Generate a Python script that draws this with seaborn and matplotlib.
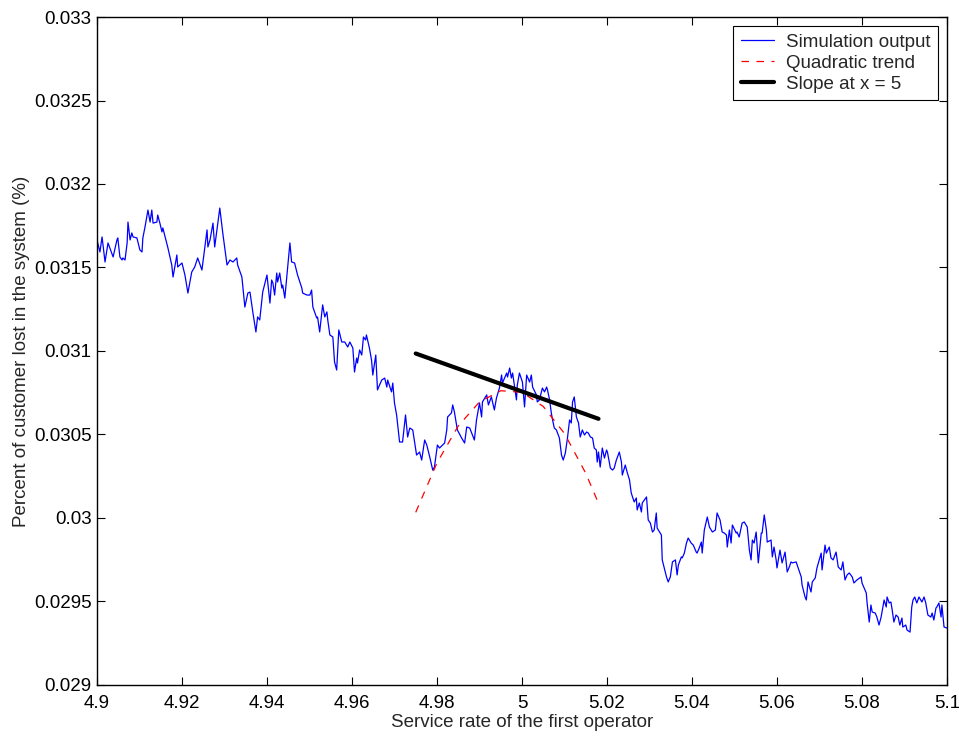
import numpy as np
import pandas as pd
import matplotlib
matplotlib.use("Agg")
import matplotlib.pyplot as plt
import seaborn as sns

# simulation output
sim_x = [4.9000, 4.9007, 4.9012, 4.9019, 4.9026, 4.9038, 4.9047, 4.9049, 4.9054, 4.9059,
         4.9061, 4.9066, 4.9071, 4.9073, 4.9078, 4.9082, 4.9085, 4.9094, 4.9101, 4.9106,
         4.9108, 4.9113, 4.9120, 4.9125, 4.9129, 4.9132, 4.9141, 4.9143, 4.9148, 4.9153,
         4.9155, 4.9167, 4.9176, 4.9179, 4.9188, 4.9190, 4.9200, 4.9207, 4.9214, 4.9223,
         4.9230, 4.9237, 4.9247, 4.9259, 4.9261, 4.9266, 4.9273, 4.9277, 4.9289, 4.9296,
         4.9306, 4.9313, 4.9320, 4.9329, 4.9331, 4.9341, 4.9348, 4.9355, 4.9360, 4.9367,
         4.9374, 4.9378, 4.9383, 4.9390, 4.9400, 4.9407, 4.9411, 4.9414, 4.9418, 4.9423,
         4.9425, 4.9430, 4.9435, 4.9437, 4.9442, 4.9447, 4.9454, 4.9458, 4.9465, 4.9472,
         4.9482, 4.9484, 4.9494, 4.9501, 4.9505, 4.9508, 4.9517, 4.9519, 4.9524, 4.9531,
         4.9536, 4.9541, 4.9543, 4.9548, 4.9555, 4.9559, 4.9564, 4.9569, 4.9576, 4.9583,
         4.9590, 4.9595, 4.9602, 4.9606, 4.9611, 4.9613, 4.9618, 4.9623, 4.9627, 4.9632,
         4.9634, 4.9641, 4.9646, 4.9649, 4.9656, 4.9660, 4.9670, 4.9677, 4.9682, 4.9684,
         4.9693, 4.9696, 4.9700, 4.9705, 4.9712, 4.9719, 4.9726, 4.9731, 4.9736, 4.9743,
         4.9752, 4.9759, 4.9764, 4.9771, 4.9776, 4.9783, 4.9790, 4.9794, 4.9801, 4.9806,
         4.9813, 4.9818, 4.9823, 4.9825, 4.9834, 4.9837, 4.9841, 4.9848, 4.9858, 4.9865,
         4.9870, 4.9877, 4.9888, 4.9893, 4.9900, 4.9905, 4.9907, 4.9917, 4.9921, 4.9928,
         4.9935, 4.9940, 4.9947, 4.9952, 4.9954, 4.9964, 4.9966, 4.9971, 4.9975, 4.9978,
         4.9987, 4.9989, 4.9994, 5.0001, 5.0006, 5.0011, 5.0018, 5.0022, 5.0025, 5.0034,
         5.0036, 5.0041, 5.0048, 5.0053, 5.0058, 5.0060, 5.0065, 5.0069, 5.0072, 5.0076,
         5.0081, 5.0088, 5.0093, 5.0097, 5.0102, 5.0107, 5.0112, 5.0116, 5.0119, 5.0123,
         5.0128, 5.0133, 5.0137, 5.0142, 5.0147, 5.0152, 5.0156, 5.0161, 5.0166, 5.0170,
         5.0175, 5.0177, 5.0180, 5.0184, 5.0189, 5.0194, 5.0199, 5.0201, 5.0208, 5.0213,
         5.0217, 5.0222, 5.0229, 5.0234, 5.0236, 5.0243, 5.0248, 5.0253, 5.0257, 5.0264,
         5.0269, 5.0271, 5.0276, 5.0281, 5.0283, 5.0288, 5.0293, 5.0297, 5.0302, 5.0307,
         5.0311, 5.0316, 5.0318, 5.0328, 5.0330, 5.0340, 5.0344, 5.0349, 5.0354, 5.0361,
         5.0365, 5.0368, 5.0375, 5.0377, 5.0382, 5.0387, 5.0391, 5.0398, 5.0403, 5.0410,
         5.0412, 5.0417, 5.0422, 5.0424, 5.0429, 5.0436, 5.0441, 5.0448, 5.0455, 5.0459,
         5.0466, 5.0471, 5.0476, 5.0481, 5.0483, 5.0488, 5.0492, 5.0495, 5.0504, 5.0506,
         5.0511, 5.0518, 5.0523, 5.0530, 5.0535, 5.0539, 5.0542, 5.0546, 5.0551, 5.0556,
         5.0563, 5.0565, 5.0570, 5.0575, 5.0577, 5.0586, 5.0589, 5.0593, 5.0598, 5.0600,
         5.0607, 5.0612, 5.0619, 5.0624, 5.0629, 5.0633, 5.0636, 5.0645, 5.0657, 5.0659,
         5.0666, 5.0669, 5.0673, 5.0680, 5.0683, 5.0690, 5.0694, 5.0704, 5.0706, 5.0713,
         5.0716, 5.0723, 5.0727, 5.0732, 5.0739, 5.0744, 5.0751, 5.0755, 5.0760, 5.0765,
         5.0770, 5.0777, 5.0781, 5.0788, 5.0798, 5.0800, 5.0810, 5.0812, 5.0817, 5.0821,
         5.0824, 5.0831, 5.0835, 5.0840, 5.0845, 5.0852, 5.0857, 5.0859, 5.0864, 5.0868,
         5.0871, 5.0875, 5.0880, 5.0885, 5.0889, 5.0894, 5.0896, 5.0903, 5.0906, 5.0913,
         5.0917, 5.0920, 5.0924, 5.0929, 5.0934, 5.0941, 5.0946, 5.0950, 5.0955, 5.0962,
         5.0965, 5.0969, 5.0974, 5.0976, 5.0981, 5.0986, 5.0988, 5.0993, 5.1000]
sim_y = [0.031665, 0.031593, 0.031683, 0.031533, 0.031647, 0.031563, 0.031665, 0.031677, 0.031563, 0.031545,
         0.031557, 0.031545, 0.031647, 0.031772, 0.031665, 0.031707, 0.031683, 0.031677, 0.031605, 0.031593,
         0.031677, 0.031742, 0.031844, 0.031772, 0.031844, 0.031766, 0.031772, 0.031814, 0.031766, 0.031713,
         0.031737, 0.031617, 0.031515, 0.031443, 0.031575, 0.031503, 0.031527, 0.031455, 0.031347, 0.031473,
         0.031503, 0.031557, 0.031485, 0.031725, 0.031623, 0.031665, 0.031766, 0.031623, 0.031856, 0.031707,
         0.031515, 0.031545, 0.031533, 0.031557, 0.031515, 0.031443, 0.031263, 0.031347, 0.031353, 0.031228,
         0.031114, 0.031204, 0.031186, 0.031353, 0.031455, 0.031287, 0.031425, 0.031407, 0.031335, 0.031467,
         0.031413, 0.031467, 0.031377, 0.031395, 0.031317, 0.031455, 0.031647, 0.031533, 0.031527, 0.031455,
         0.031377, 0.031347, 0.031335, 0.031335, 0.031365, 0.031263, 0.031198, 0.031204, 0.031114, 0.031276,
         0.031204, 0.031234, 0.031186, 0.031096, 0.031084, 0.030934, 0.030886, 0.031126, 0.031054, 0.031054,
         0.031024, 0.031054, 0.031018, 0.030874, 0.030958, 0.030928, 0.031006, 0.030976, 0.031084, 0.031066,
         0.031096, 0.031018, 0.030946, 0.030856, 0.030976, 0.030767, 0.030826, 0.030838, 0.030784, 0.030826,
         0.030755, 0.030808, 0.030689, 0.030617, 0.030455, 0.030455, 0.030617, 0.030485, 0.030539, 0.030527,
         0.030377, 0.030395, 0.030347, 0.030467, 0.030437, 0.030365, 0.030287, 0.030305, 0.030437, 0.030419,
         0.030437, 0.030449, 0.030527, 0.030605, 0.030629, 0.030677, 0.030635, 0.030527, 0.030479, 0.030449,
         0.030545, 0.030539, 0.030467, 0.030587, 0.030689, 0.030605, 0.030695, 0.030737, 0.030677, 0.030725,
         0.030647, 0.030719, 0.030779, 0.030856, 0.030808, 0.030868, 0.030844, 0.030898, 0.030838, 0.030868,
         0.030707, 0.030796, 0.030868, 0.030814, 0.030665, 0.030856, 0.030814, 0.030856, 0.030784, 0.030737,
         0.030695, 0.030707, 0.030778, 0.030755, 0.030784, 0.030767, 0.030707, 0.030629, 0.030587, 0.030539,
         0.030527, 0.030479, 0.030377, 0.030347, 0.030389, 0.030479, 0.030587, 0.030569, 0.030695, 0.030725,
         0.030605, 0.030569, 0.030485, 0.030527, 0.030497, 0.030515, 0.030509, 0.030485, 0.030479, 0.030419,
         0.030407, 0.030335, 0.030395, 0.030305, 0.030419, 0.030359, 0.030407, 0.030395, 0.030299, 0.030287,
         0.030299, 0.030347, 0.030395, 0.030335, 0.030257, 0.030317, 0.030269, 0.030228, 0.030150, 0.030096,
         0.030120, 0.030048, 0.030090, 0.030036, 0.030090, 0.030108, 0.030126, 0.029988, 0.029970, 0.029916,
         0.029928, 0.030030, 0.029940, 0.029898, 0.029749, 0.029647, 0.029617, 0.029647, 0.029737, 0.029749,
         0.029659, 0.029719, 0.029767, 0.029761, 0.029790, 0.029850, 0.029880, 0.029850, 0.029838, 0.029796,
         0.029790, 0.029820, 0.029856, 0.029790, 0.029928, 0.030006, 0.029946, 0.029916, 0.029928, 0.030030,
         0.029988, 0.029916, 0.029910, 0.029898, 0.029826, 0.029928, 0.029850, 0.029958, 0.029910, 0.029916,
         0.029886, 0.029970, 0.029976, 0.029946, 0.029808, 0.029749, 0.029868, 0.029850, 0.029916, 0.029731,
         0.029910, 0.029910, 0.030018, 0.029928, 0.029856, 0.029868, 0.029767, 0.029826, 0.029749, 0.029701,
         0.029808, 0.029731, 0.029796, 0.029677, 0.029707, 0.029737, 0.029731, 0.029737, 0.029647, 0.029599,
         0.029527, 0.029509, 0.029617, 0.029557, 0.029617, 0.029641, 0.029701, 0.029790, 0.029689, 0.029838,
         0.029790, 0.029826, 0.029761, 0.029749, 0.029796, 0.029707, 0.029689, 0.029737, 0.029629, 0.029659,
         0.029671, 0.029647, 0.029611, 0.029629, 0.029647, 0.029611, 0.029551, 0.029491, 0.029377, 0.029479,
         0.029437, 0.029431, 0.029407, 0.029359, 0.029407, 0.029509, 0.029467, 0.029527, 0.029491, 0.029497,
         0.029449, 0.029377, 0.029419, 0.029407, 0.029359, 0.029401, 0.029347, 0.029359, 0.029329, 0.029317,
         0.029467, 0.029509, 0.029527, 0.029491, 0.029527, 0.029497, 0.029527, 0.029491, 0.029419, 0.029407,
         0.029431, 0.029389, 0.029461, 0.029467, 0.029491, 0.029407, 0.029479, 0.029347, 0.029341]

# quadratic trend, read at a few points
trend_x = [4.975, 4.980, 4.985, 4.990, 4.995, 5.000, 5.005, 5.010, 5.015, 5.018]
trend_y = [0.030034, 0.030330, 0.030551, 0.030695, 0.030762, 0.030753, 0.030668, 0.030506, 0.030268, 0.030088]

# tangent line at x = 5
slope_x = [4.975, 5.018]
slope_y = [0.030985, 0.030594]

x_ticks = [4.9, 4.92, 4.94, 4.96, 4.98, 5.0, 5.02, 5.04, 5.06, 5.08, 5.1]
y_ticks = [0.029, 0.0295, 0.03, 0.0305, 0.031, 0.0315, 0.032, 0.0325, 0.033]

sns.set_style("ticks")
plt.rcParams['font.family'] = ['Liberation Sans', 'DejaVu Sans']
fs = 13.5

fig = plt.figure(figsize=(9.59, 7.36), dpi=100)
ax = fig.add_axes([0.1011, 0.0693, 0.8864, 0.9076])

sim = pd.DataFrame({'x': sim_x, 'y': sim_y})
sns.lineplot(data=sim, x='x', y='y', ax=ax, color='#0000ff', linewidth=0.9,
             estimator=None, sort=False, label='Simulation output')
sns.lineplot(x=trend_x, y=trend_y, ax=ax, color='#ff0000', linewidth=0.9,
             estimator=None, sort=False, label='Quadratic trend')
ax.lines[-1].set_linestyle((0, (6, 6)))
sns.lineplot(x=slope_x, y=slope_y, ax=ax, color='black', linewidth=3,
             estimator=None, sort=False, label='Slope at x = 5')

ax.set_xlim(4.9, 5.1)
ax.set_ylim(0.029, 0.033)
ax.set_xticks(x_ticks)
ax.set_yticks(y_ticks)
ax.set_xticklabels(['%g' % v for v in x_ticks])
ax.set_yticklabels(['%g' % v for v in y_ticks])
ax.tick_params(direction='in', length=6, width=0.8, top=True, right=True,
               labelsize=fs, colors='black')
ax.tick_params(axis='x', pad=7)
ax.tick_params(axis='y', pad=4)
for s in ax.spines.values():
    s.set_visible(True)
    s.set_color('black')
    s.set_linewidth(1.0)

ax.set_xlabel('Service rate of the first operator', fontsize=fs, labelpad=2)
ax.set_ylabel('Percent of customer lost in the system (%)', fontsize=fs, labelpad=3)

leg = ax.legend(loc='upper right', fontsize=fs, frameon=True, fancybox=False,
                framealpha=1, edgecolor='black', borderaxespad=0.5,
                handlelength=1.8, borderpad=0.4, labelspacing=0.2, handletextpad=0.6)
leg.get_frame().set_linewidth(0.8)

fig.savefig('out.png', dpi=100)
